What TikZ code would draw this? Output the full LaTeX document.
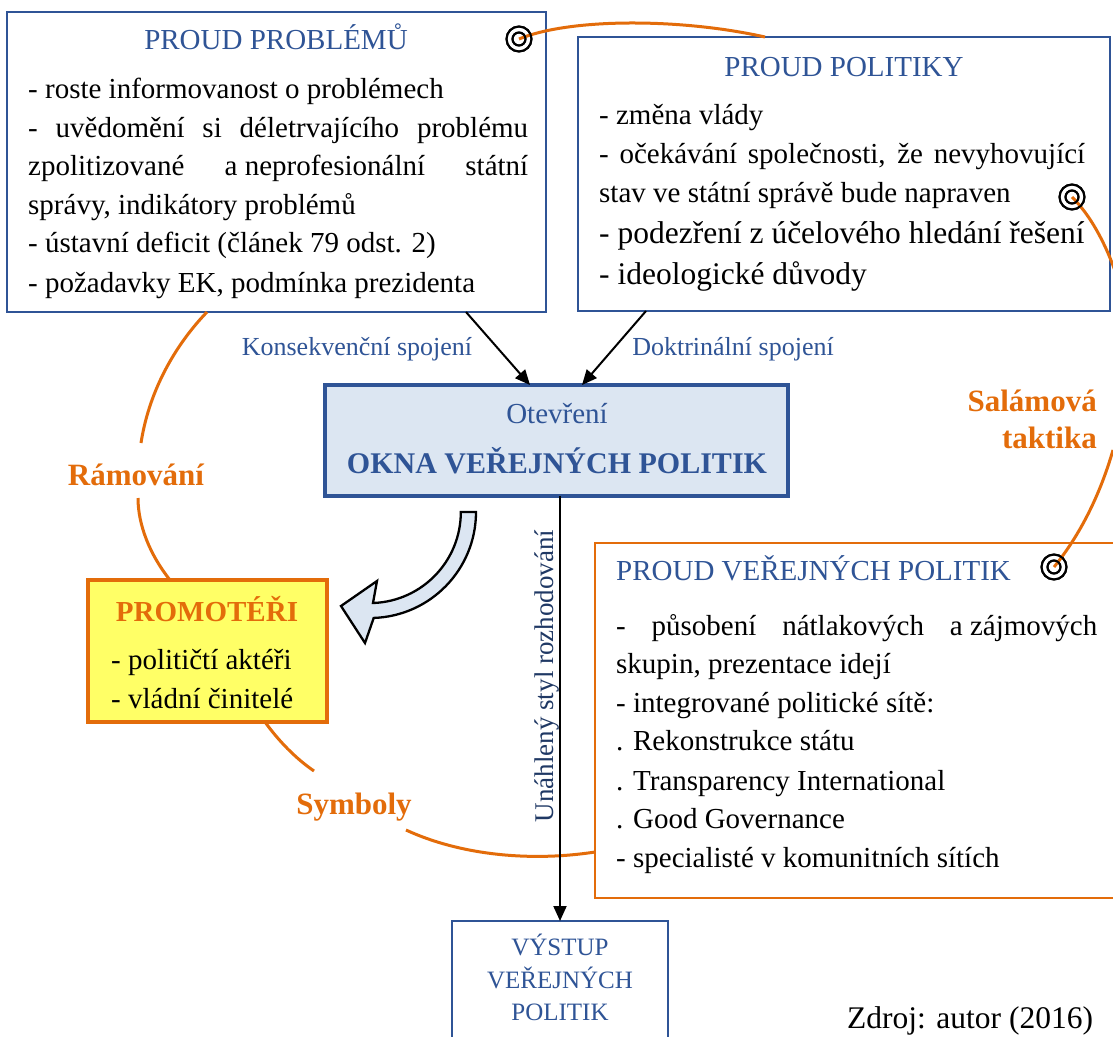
\documentclass[tikz,border=0pt]{standalone}
\usepackage{fontspec}
\setmainfont{Liberation Serif}
\usetikzlibrary{arrows.meta}
\definecolor{pblue}{HTML}{2F5496}
\definecolor{porange}{HTML}{E36C0A}
\definecolor{pfill}{HTML}{DCE6F2}
\definecolor{pyellow}{HTML}{FFFF66}
\definecolor{pnavy}{HTML}{1F3864}
\newcommand\fsz[1]{\fontsize{#1}{#1}\selectfont}
\begin{document}
\begin{tikzpicture}[x=1pt,y=-1pt,
  bluebox/.style={rectangle,draw=pblue,line width=2.5pt,inner sep=0,outer sep=0},
  winbox/.style={rectangle,draw=pblue,fill=pfill,line width=4pt,inner sep=0,outer sep=0},
  promobox/.style={rectangle,draw=porange,fill=pyellow,line width=4pt,inner sep=0,outer sep=0},
  orbox/.style={rectangle,draw=porange,line width=2.5pt,inner sep=0,outer sep=0},
  tl/.style={inner sep=0,anchor=base west,font=\fsz{29}},
  tc/.style={inner sep=0,anchor=base,font=\fsz{29}},
  olbl/.style={inner sep=0,anchor=base,text=porange,font=\fsz{31}\bfseries},
  blbl/.style={inner sep=0,anchor=base,text=pblue,font=\fsz{26}},
  oline/.style={draw=porange,line width=3pt},
  arr/.style={-{Triangle[length=15pt,width=13pt]},line width=2pt,black},
  tgt/.style={circle,draw=black,line width=2pt,minimum size=25pt,inner sep=0,
    path picture={\draw[line width=2pt] (path picture bounding box.center) circle[radius=6.5pt];}},
  barrow/.style={draw=black,fill=pfill,line width=2.3pt,line join=miter}]
\useasboundingbox (0,0) rectangle (1113,1036);
\fill[white] (0,0) rectangle (1113,1036);

% boxes
\node[bluebox,minimum width=539pt,minimum height=300pt] (b1) at (276.5,162) {};
\node[bluebox,minimum width=532pt,minimum height=274pt] (b2) at (844,174) {};
\node[winbox,minimum width=463pt,minimum height=111pt] (win) at (556.5,440.5) {};
\node[promobox,minimum width=239pt,minimum height=142pt] (prom) at (207.5,651) {};
\node[orbox,minimum width=530pt,minimum height=355pt] (b3) at (860,720.5) {};
\node[bluebox,minimum width=216pt,minimum height=139pt] (out) at (560,990.5) {};

% orange curves
\coordinate (ramA) at (141,443);
\coordinate (ramB) at (138,498);
\coordinate (symA) at (314,771);
\coordinate (symB) at (406,830);
\coordinate (salA) at (1122,292);
\coordinate (salB) at (1113,450);
\node[tgt] (t1) at (519,39) {};
\node[tgt] (t2) at (1072,197) {};
\node[tgt] (t3) at (1054,567) {};
\draw[oline] (t1.center) .. controls (570,18) and (680,18) .. ([xshift=187pt]b2.north west);
\draw[oline] ([xshift=200pt]b1.south west) .. controls (180,340) and (150,385) .. (ramA);
\draw[oline] (ramB) .. controls (138,525) and (150,555) .. ([xshift=82pt]prom.north west);
\draw[oline] ([xshift=177pt]prom.south west) .. controls (278,740) and (295,758) .. (symA);
\draw[oline] (symB) .. controls (460,855) and (530,862) .. ([yshift=-309pt]b3.north west);
\draw[oline] (t2.center) .. controls (1090,215) and (1108,245) .. (salA);
\draw[oline] (salB) .. controls (1100,495) and (1080,535) .. (t3.center);
\node[tgt] at (t1) {};
\node[tgt] at (t2) {};
\node[tgt] at (t3) {};

% arrows
\draw[arr] ([xshift=459pt]b1.south west) -- ([xshift=205pt]win.north west);
\draw[arr] ([xshift=68pt]b2.south west) -- ([xshift=257pt]win.north west);
\draw[arr] (win.south -| out.north) -- (out.north);

% block arrow
\draw[barrow] (476,512) arc[start angle=0,end angle=88,radius=106] -- (365,643) -- (341,606) -- (377,581) -- (373,603) arc[start angle=88,end angle=0,radius=91] -- cycle;

% box 1 text
\node[tc,text=pblue] (b1t) at (276,49) {PROUD PROBLÉMŮ};
\node[tl] (b1a) at (28,98) {- roste informovanost o problémech};
\node[tl] (b1b) at (28,137) {\makebox[500pt][s]{- uvědomění si déletrvajícího problému}};
\node[tl] (b1c) at (28,175) {\makebox[500pt][s]{zpolitizované \mbox{a neprofesionální} státní}};
\node[tl] (b1d) at (28,214) {správy, indikátory problémů};
\node[tl] (b1e) at (28,252) {- ústavní deficit (článek 79 odst. 2)};
\node[tl] (b1f) at (28,292) {- požadavky EK, podmínka prezidenta};

% box 2 text
\node[tc,text=pblue] (b2t) at (844,76) {PROUD POLITIKY};
\node[tl] (b2a) at (599,124) {- změna vlády};
\node[tl] (b2b) at (599,163) {\makebox[486pt][s]{- očekávání společnosti, že nevyhovující}};
\node[tl] (b2c) at (599,202) {stav ve státní správě bude napraven};
\node[tl,font=\fsz{31.5}] (b2d) at (599,243) {- podezření z účelového hledání řešení};
\node[tl,font=\fsz{31.5}] (b2e) at (599,284) {- ideologické důvody};

% box 3 text
\node[tl,text=pblue] (b3t) at (616,580) {PROUD VEŘEJNÝCH POLITIK};
\node[tl] (b3a) at (616,635) {\makebox[481pt][s]{- působení nátlakových \mbox{a zájmových}}};
\node[tl] (b3b) at (616,673) {skupin, prezentace idejí};
\node[tl] (b3c) at (616,712) {- integrované politické sítě:};
\node[tl] (b3d) at (616,750) {. Rekonstrukce státu};
\node[tl] (b3e) at (616,790) {. Transparency International};
\node[tl] (b3f) at (616,828) {. Good Governance};
\node[tl] (b3g) at (616,867) {- specialisté v komunitních sítích};

% central box text
\node[tc,text=pblue] (wint) at (557,423) {Otevření};
\node[tc,text=pblue,font=\fsz{30}\bfseries] (winb) at (557,473) {OKNA VEŘEJNÝCH POLITIK};

% promoteri
\node[tc,text=porange,font=\fsz{29}\bfseries] (promt) at (207,621) {PROMOTÉŘI};
\node[tl] (proma) at (111,669) {- političtí aktéři};
\node[tl] (promb) at (111,708) {- vládní činitelé};

% output box
\node[tc,text=pblue,font=\fsz{25}] (outa) at (560,955) {VÝSTUP};
\node[tc,text=pblue,font=\fsz{25}] (outb) at (560,988) {VEŘEJNÝCH};
\node[tc,text=pblue,font=\fsz{25}] (outc) at (560,1020) {POLITIK};

% labels
\node[blbl] (kons) at (357,355) {Konsekvenční spojení};
\node[blbl] (dokt) at (733,355) {Doktrinální spojení};
\node[olbl] (ram) at (136,485) {Rámování};
\node[olbl] (sym) at (354,814) {Symboly};
\node[olbl,anchor=base east] (sal1) at (1097,411) {Salámová};
\node[olbl,anchor=base east] (sal2) at (1097,448) {taktika};
\node[inner sep=0,anchor=base,rotate=90,text=pnavy,font=\fsz{27}] (unah) at (553,676) {Unáhlený styl rozhodování};
\node[inner sep=0,anchor=base west,font=\fsz{31.5}] (zdroj) at (847,1028) {Zdroj: autor (2016)};
\end{tikzpicture}
\end{document}
